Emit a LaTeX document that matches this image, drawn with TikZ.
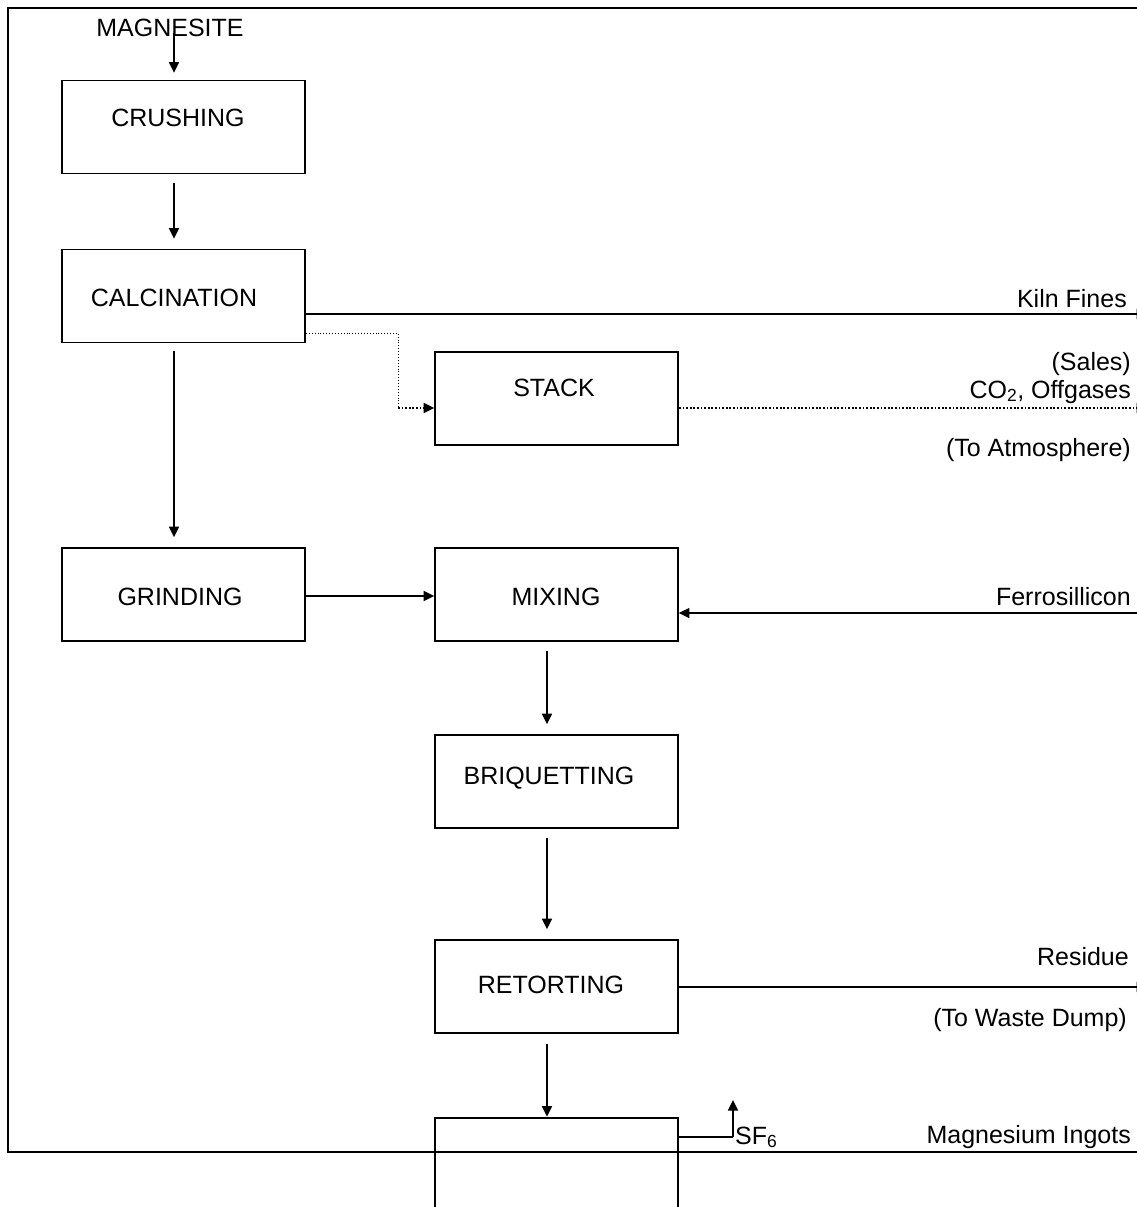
\documentclass[tikz,border=0pt]{standalone}
\usepackage{fontspec}
\setmainfont{Liberation Sans}
\usetikzlibrary{arrows.meta}
\begin{document}
\begin{tikzpicture}[x=1pt,y=-1pt,
  box/.style={draw,line width=1.8pt,rectangle,minimum width=243pt,minimum height=93pt,inner sep=0pt},
  lbl/.style={inner sep=0pt,font=\fontsize{25}{30}\selectfont},
  tip/.style={-{Triangle[length=10.5pt,width=10pt]}},
  flow/.style={line width=1.5pt,tip},
  plain/.style={line width=1.5pt},
  dotthin/.style={line width=0.9pt,dotted},
  dotthick/.style={line width=1.8pt,dash pattern=on 1.8pt off 1.8pt},
  frame/.style={line width=2.4pt}]
\useasboundingbox (0,0) rectangle (1136,1207);
% frame
\coordinate (f1) at (8,1152);
\coordinate (f2) at (8,8);
\coordinate (f3) at (1140,8);
\coordinate (f4) at (1140,1152);
\draw[frame] (f3) -- (f2) -- (f1) -- (f4);
% boxes
\node[box] (crush) at (183.5,127) {};
\node[box] (calc) at (183.5,296) {};
\node[box] (stack) at (556.5,398.5) {};
\node[box] (grind) at (183.5,594.5) {};
\node[box] (mix) at (556.5,594.5) {};
\node[box] (briq) at (556.5,781.5) {};
\node[box] (retort) at (556.5,986.5) {};
\node[box,minimum height=200pt] (last) at (556.5,1218) {};
% box labels
\node[lbl,anchor=base] (tcrush) at (178,126) {CRUSHING};
\node[lbl,anchor=base] (tcalc) at (174,306) {CALCINATION};
\node[lbl,anchor=base] (tstack) at (554,396) {STACK};
\node[lbl,anchor=base] (tgrind) at (180,605) {GRINDING};
\node[lbl,anchor=base] (tmix) at (556,605) {MIXING};
\node[lbl,anchor=base] (tbriq) at (549,784) {BRIQUETTING};
\node[lbl,anchor=base] (tretort) at (551,993) {RETORTING};
\node[lbl,anchor=base] (tmag) at (170,37) {MAGNESITE};
% side labels
\node[lbl,anchor=base east] (tkiln) at (1127,307) {Kiln Fines};
\node[lbl,anchor=base east] (tsales) at (1131,370) {(Sales)};
\node[lbl,anchor=base east] (tco2) at (1131,398) {CO\textsubscript{2}, Offgases};
\node[lbl,anchor=base east] (tatm) at (1131,456) {(To Atmosphere)};
\node[lbl,anchor=base east] (tferro) at (1131,605) {Ferrosillicon};
\node[lbl,anchor=base east] (tres) at (1129,965) {Residue};
\node[lbl,anchor=base east] (twaste) at (1127,1026) {(To Waste Dump)};
\node[lbl,anchor=base east] (tingot) at (1131,1143) {Magnesium Ingots};
\node[lbl,anchor=base west] (tsf6) at (735,1144) {SF\textsubscript{6}};
% free ends
\coordinate (magtop) at (174,33);
\coordinate (kilnend) at (1147,314);
\coordinate (stackend) at (1147,408);
\coordinate (ferrostart) at (1150,613);
\coordinate (resend) at (1147,987);
\coordinate (sfcorner) at (733,1137);
\coordinate (sftop) at (733,1100);
\coordinate (dotc1) at (398,333);
\coordinate (dotc2) at (398,408);
% vertical flows
\draw[flow,shorten >=7pt] (magtop) -- (magtop |- crush.north);
\draw[flow,shorten <=9pt,shorten >=10pt] (174,0 |- crush.south) -- (174,0 |- calc.north);
\draw[flow,shorten <=8pt,shorten >=10pt] (174,0 |- calc.south) -- (174,0 |- grind.north);
\draw[flow] (grind.east |- 0,596) -- (mix.west |- 0,596);
\draw[flow] (ferrostart) -- (mix.east |- ferrostart);
\draw[flow,shorten <=9pt,shorten >=10pt] (547,0 |- mix.south) -- (547,0 |- briq.north);
\draw[flow,shorten <=9pt,shorten >=10pt] (547,0 |- briq.south) -- (547,0 |- retort.north);
\draw[flow,shorten <=10pt,shorten >=0.5pt] (547,0 |- retort.south) -- (547,0 |- last.north);
% outputs
\draw[flow] (calc.east |- kilnend) -- (kilnend);
\draw[dotthin] (calc.east |- dotc1) -- (dotc1) -- (dotc2);
\draw[dotthick,tip] (dotc2) -- (stack.west |- dotc2);
\draw[dotthick,tip] (stack.east |- stackend) -- (stackend);
\draw[flow] (retort.east |- resend) -- (resend);
\draw[plain] (last.east |- sfcorner) -- (sfcorner);
\draw[flow] (sfcorner) -- (sftop);
\end{tikzpicture}
\end{document}
